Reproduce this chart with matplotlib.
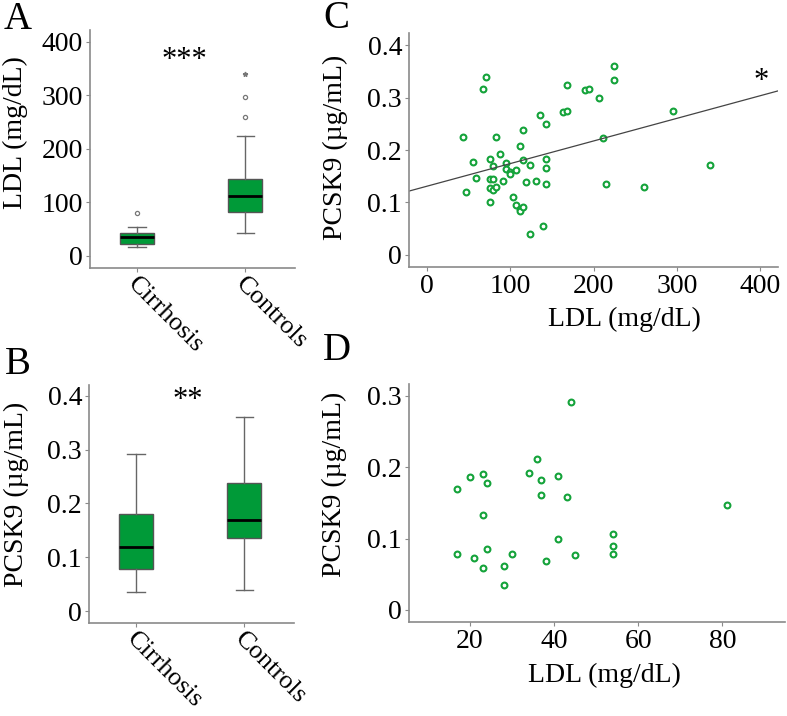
import numpy as np
import matplotlib.pyplot as plt
import matplotlib.transforms as mtransforms
from matplotlib.ticker import FuncFormatter

plt.rcParams['font.family'] = ['Liberation Serif', 'DejaVu Serif']

groups = ["Cirrhosis", "Controls"]

# controls: LDL (mg/dL) and PCSK9 (ug/mL), panel C
ctrl_ldl = [43, 47, 55, 59, 67, 71, 75, 75, 75, 75, 79, 79, 79, 83, 83,
            87, 91, 95, 95, 99, 99, 103, 107, 107, 111, 111, 111, 115, 115,
            115, 119, 123, 123, 131, 135, 139, 143, 143, 143, 143, 163, 168,
            168, 190, 195, 207, 211, 215, 224, 224, 260, 296, 340]
ctrl_pcsk9 = [0.225, 0.119, 0.178, 0.147, 0.316, 0.339, 0.183, 0.144, 0.128,
              0.100, 0.170, 0.144, 0.123, 0.225, 0.130, 0.192, 0.141, 0.175,
              0.164, 0.159, 0.155, 0.111, 0.161, 0.096, 0.207, 0.088, 0.083,
              0.238, 0.180, 0.091, 0.139, 0.171, 0.039, 0.140, 0.267, 0.055,
              0.249, 0.183, 0.166, 0.135, 0.272, 0.324, 0.274, 0.315, 0.317,
              0.299, 0.222, 0.135, 0.360, 0.333, 0.130, 0.274, 0.171]

# cirrhosis: panel D
cirr_ldl = [17, 17, 20, 21, 23, 23, 23, 24, 24, 28, 28, 30, 34, 36, 37,
            37, 38, 41, 41, 43, 44, 45, 54, 54, 54, 81]
cirr_pcsk9 = [0.170, 0.078, 0.186, 0.073, 0.190, 0.133, 0.058, 0.178, 0.085,
              0.062, 0.035, 0.079, 0.192, 0.211, 0.182, 0.161, 0.069, 0.187,
              0.099, 0.158, 0.292, 0.077, 0.106, 0.090, 0.079, 0.147]

sig_ldl = "***"
sig_pcsk9 = "**"
sig_corr = "*"

GREEN = "#009a38"
DOT = "#14a33a"
SPINE = "#8a8a8a"
W, H = 787, 716
TICK_FS = 20
LABEL_FS = 20


def px_axes(fig, left, top, right, bottom):
    return fig.add_axes([left / W, 1 - bottom / H, (right - left) / W,
                         (bottom - top) / H])


def style(ax):
    for s in ["top", "right"]:
        ax.spines[s].set_visible(False)
    for s in ["left", "bottom"]:
        ax.spines[s].set_color(SPINE)
        ax.spines[s].set_linewidth(1.2)
    ax.tick_params(length=3, width=0.8, color=SPINE, labelsize=TICK_FS, pad=2)
    ax.yaxis.set_major_formatter(FuncFormatter(lambda v, _: f"{v:g}"))


def boxes(ax, data):
    ax.boxplot(data, positions=[1, 2], widths=0.315, patch_artist=True,
               showfliers=False, whis=1.5, capwidths=0.16,
               boxprops=dict(facecolor=GREEN, edgecolor="#555555", lw=1),
               medianprops=dict(color="black", lw=2),
               whiskerprops=dict(color="#666666", lw=1),
               capprops=dict(color="#666666", lw=1))
    # SPSS style outliers: o beyond 1.5 IQR, * beyond 3 IQR
    for i, d in enumerate(data):
        d = np.asarray(d)
        q1, q3 = np.percentile(d, [25, 75])
        iqr = q3 - q1
        far = (d > q3 + 3 * iqr) | (d < q1 - 3 * iqr)
        out = ((d > q3 + 1.5 * iqr) | (d < q1 - 1.5 * iqr)) & ~far
        ax.plot(np.full(out.sum(), i + 1), d[out], "o", ms=3.0, mfc="none",
                mec="#777777", mew=0.9)
        ax.plot(np.full(far.sum(), i + 1), d[far], "*", ms=3.5, color="#777777")
    ax.set_xticks([1, 2])
    ax.set_xticklabels(groups, rotation=-45, ha="left", va="center",
                       rotation_mode="anchor", fontsize=19)
    off = mtransforms.ScaledTranslation(-6 / 100, -6 / 100, ax.figure.dpi_scale_trans)
    for lab in ax.get_xticklabels():
        lab.set_transform(lab.get_transform() + off)
    ax.set_xlim(0.565, 2.46)


fig = plt.figure(figsize=(W / 100, H / 100), dpi=100)

# A
axA = px_axes(fig, 90, 30, 295, 268)
style(axA)
boxes(axA, [cirr_ldl, ctrl_ldl])
axA.set_ylim(-22.4, 421.6)
axA.set_yticks([0, 100, 200, 300, 400])
axA.set_ylabel("LDL (mg/dL)", fontsize=LABEL_FS, va="center")
axA.yaxis.set_label_coords(-0.366, 0.567)
axA.text(1.44, 365, sig_ldl, ha="center", va="center", fontsize=22)

# B
axB = px_axes(fig, 89, 385, 294, 623)
style(axB)
boxes(axB, [cirr_pcsk9, ctrl_pcsk9])
axB.set_ylim(-0.0223, 0.42)
axB.set_yticks([0, 0.1, 0.2, 0.3, 0.4])
axB.set_ylabel("PCSK9 (\u00b5g/mL)", fontsize=LABEL_FS, va="center")
axB.yaxis.set_label_coords(-0.356, 0.542)
axB.text(1.48, 0.392, sig_pcsk9, ha="center", va="center", fontsize=22)

# C
axC = px_axes(fig, 409, 33, 778, 267)
style(axC)
axC.plot(ctrl_ldl, ctrl_pcsk9, "o", ms=4.2, mfc="white", mec=DOT, mew=1.5)
slope, icept = np.polyfit(ctrl_ldl, ctrl_pcsk9, 1)
axC.axline((0, icept), slope=slope, color="#444444", lw=0.9)
axC.set_xlim(-22, 421.7)
axC.set_ylim(-0.023, 0.423)
axC.set_xticks([0, 100, 200, 300, 400])
axC.set_yticks([0, 0.1, 0.2, 0.3, 0.4])
axC.set_xlabel("LDL (mg/dL)", fontsize=LABEL_FS, va="center")
axC.xaxis.set_label_coords(0.585, -0.226)
axC.set_ylabel("PCSK9 (\u00b5g/mL)", fontsize=LABEL_FS, va="center")
axC.yaxis.set_label_coords(-0.2, 0.513)
axC.text(402, 0.33, sig_corr, ha="center", va="center", fontsize=22)

# D
axD = px_axes(fig, 409, 384, 785, 622)
style(axD)
axD.plot(cirr_ldl, cirr_pcsk9, "o", ms=4.2, mfc="white", mec=DOT, mew=1.5)
axD.set_xlim(5.5, 94.9)
axD.set_ylim(-0.017, 0.3166)
axD.set_xticks([20, 40, 60, 80])
axD.set_yticks([0, 0.1, 0.2, 0.3])
axD.set_xlabel("LDL (mg/dL)", fontsize=LABEL_FS, va="center")
axD.xaxis.set_label_coords(0.521, -0.223)
axD.set_ylabel("PCSK9 (\u00b5g/mL)", fontsize=LABEL_FS, va="center")
axD.yaxis.set_label_coords(-0.198, 0.58)

for letter, x, y in [("A", 17.5, 19.5), ("B", 18, 364), ("C", 336, 19), ("D", 337, 351)]:
    fig.text(x / W, 1 - y / H, letter, ha="center", va="center", fontsize=28)

fig.savefig("out.png", dpi=100)
